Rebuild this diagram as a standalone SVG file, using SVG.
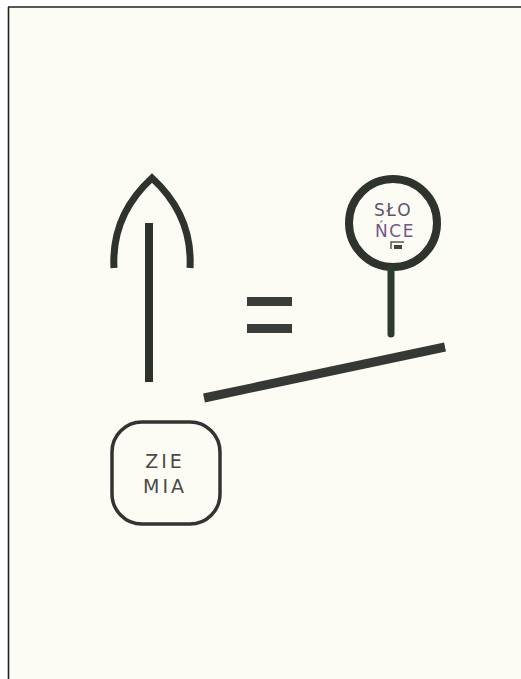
<svg xmlns="http://www.w3.org/2000/svg" width="521" height="679" viewBox="0 0 521 679">
<style>
.ink{fill:none;stroke:#2e332e;}
.bar{fill:#3a3c3a;}
.lbl{font-family:"DejaVu Sans","Liberation Sans",sans-serif;text-anchor:middle;}
</style>
<rect x="0" y="0" width="521" height="679" fill="#ffffff"/>
<rect x="8" y="7" width="513" height="672" fill="#fcfcf4"/>
<line x1="8" y1="7" x2="521" y2="7" stroke="#222" stroke-width="1.6"/>
<line x1="8.5" y1="7" x2="8.5" y2="679" stroke="#222" stroke-width="1.6"/>

<g id="arrow">
  <path class="ink" d="M114,268 C112,230 128,200 152,178 C176,200 192,230 190,268" stroke-width="7" stroke-linejoin="miter"/>
  <line class="ink" x1="149" y1="223" x2="149" y2="382" stroke-width="8" stroke="#2c382f"/>
</g>

<g id="equals">
  <rect class="bar" x="247" y="297" width="45" height="9"/>
  <rect class="bar" x="247" y="324" width="45" height="9"/>
</g>

<g id="sun">
  <circle class="ink" cx="393" cy="223" r="44" stroke-width="8" fill="#fdfdfa"/>
  <line x1="391" y1="268" x2="391" y2="334" stroke="#2b3b2e" stroke-width="7" stroke-linecap="round"/>
  <text class="lbl" x="393" y="216" font-size="17" font-weight="500" fill="#5e5470" letter-spacing="1.5">SŁO</text>
  <text class="lbl" x="395" y="237" font-size="17" font-weight="500" fill="#75548c" letter-spacing="1.5">ŃCE</text>
  <path d="M391,249 V242 H404" fill="none" stroke="#555" stroke-width="1.5"/>
  <rect x="394" y="245" width="8" height="4" fill="#444"/>
</g>

<g id="ziemia">
  <rect x="112" y="422" width="108" height="102" rx="30" ry="30" fill="none" stroke="#333" stroke-width="3.5"/>
  <text class="lbl" x="165" y="468" font-size="19" fill="#4a4a4a" letter-spacing="3">ZIE</text>
  <text class="lbl" x="165" y="493" font-size="19" fill="#4a4a4a" letter-spacing="3">MIA</text>
</g>

<g id="connectors">
  <line x1="204" y1="398" x2="445" y2="347" stroke="#363836" stroke-width="9"/>
</g>
</svg>
